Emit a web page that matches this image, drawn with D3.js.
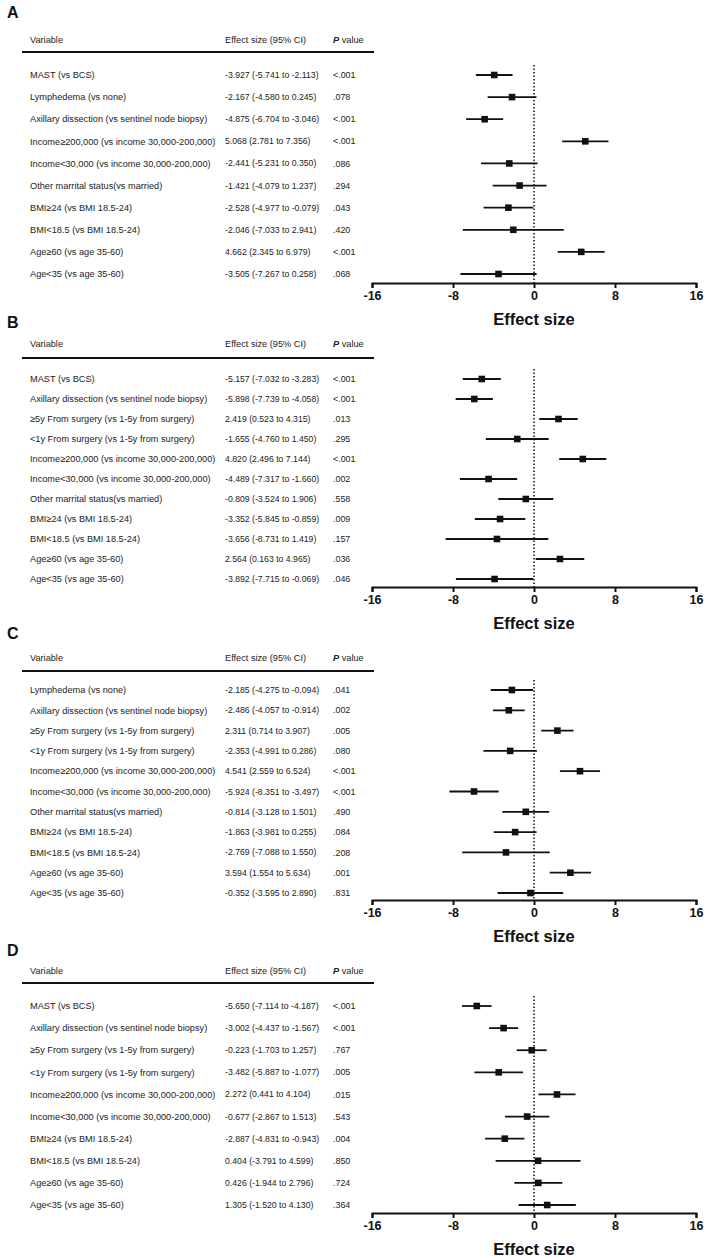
<!DOCTYPE html>
<html>
<head>
<meta charset="utf-8">
<script src="https://cdn.jsdelivr.net/npm/d3@7"></script>
<style>
  html, body { margin: 0; padding: 0; background: #fff; }
  svg { display: block; font-family: "Liberation Sans", Arial, sans-serif; }
  .panel-letter { font-size: 16px; font-weight: bold; fill: #111; }
  .head { font-size: 9.2px; fill: #222; }
  .row-text { font-size: 9.2px; fill: #222; }
  .row-text.eff { font-size: 8.7px; }
  .row-text.pv { font-size: 8.9px; }
  .axis text { font-size: 12.5px; font-weight: bold; fill: #111; font-family: "Liberation Sans", Arial, sans-serif; }
  .axis path, .axis line { stroke: #111; stroke-width: 2; }
  .axis-title { font-size: 16.5px; font-weight: bold; fill: #111; }
</style>
</head>
<body>
<div id="chart"></div>
<script>
// forest plots A-D: effect size (95% CI) by variable

const TICKS = [-16, -8, 0, 8, 16];

// panel A
const A_VARS = [
  "MAST (vs BCS)",
  "Lymphedema (vs none)",
  "Axillary dissection (vs sentinel node biopsy)",
  "Income≥200,000 (vs income 30,000-200,000)",
  "Income<30,000 (vs income 30,000-200,000)",
  "Other marrital status(vs married)",
  "BMI≥24 (vs BMI 18.5-24)",
  "BMI<18.5 (vs BMI 18.5-24)",
  "Age≥60 (vs age 35-60)",
  "Age<35 (vs age 35-60)",
];
const A_EST = [-3.927, -2.167, -4.875, 5.068, -2.441, -1.421, -2.528, -2.046, 4.662, -3.505];
const A_LO = [-5.741, -4.580, -6.704, 2.781, -5.231, -4.079, -4.977, -7.033, 2.345, -7.267];
const A_HI = [-2.113, 0.245, -3.046, 7.356, 0.350, 1.237, -0.079, 2.941, 6.979, 0.258];
const A_P = ["<.001", ".078", "<.001", "<.001", ".086", ".294", ".043", ".420", "<.001", ".068"];

// panel B
const B_VARS = [
  "MAST (vs BCS)",
  "Axillary dissection (vs sentinel node biopsy)",
  "≥5y From surgery (vs 1-5y from surgery)",
  "<1y From surgery (vs 1-5y from surgery)",
  "Income≥200,000 (vs income 30,000-200,000)",
  "Income<30,000 (vs income 30,000-200,000)",
  "Other marrital status(vs married)",
  "BMI≥24 (vs BMI 18.5-24)",
  "BMI<18.5 (vs BMI 18.5-24)",
  "Age≥60 (vs age 35-60)",
  "Age<35 (vs age 35-60)",
];
const B_EST = [-5.157, -5.898, 2.419, -1.655, 4.820, -4.489, -0.809, -3.352, -3.656, 2.564, -3.892];
const B_LO = [-7.032, -7.739, 0.523, -4.760, 2.496, -7.317, -3.524, -5.845, -8.731, 0.163, -7.715];
const B_HI = [-3.283, -4.058, 4.315, 1.450, 7.144, -1.660, 1.906, -0.859, 1.419, 4.965, -0.069];
const B_P = ["<.001", "<.001", ".013", ".295", "<.001", ".002", ".558", ".009", ".157", ".036", ".046"];

// panel C
const C_VARS = [
  "Lymphedema (vs none)",
  "Axillary dissection (vs sentinel node biopsy)",
  "≥5y From surgery (vs 1-5y from surgery)",
  "<1y From surgery (vs 1-5y from surgery)",
  "Income≥200,000 (vs income 30,000-200,000)",
  "Income<30,000 (vs income 30,000-200,000)",
  "Other marrital status(vs married)",
  "BMI≥24 (vs BMI 18.5-24)",
  "BMI<18.5 (vs BMI 18.5-24)",
  "Age≥60 (vs age 35-60)",
  "Age<35 (vs age 35-60)",
];
const C_EST = [-2.185, -2.486, 2.311, -2.353, 4.541, -5.924, -0.814, -1.863, -2.769, 3.594, -0.352];
const C_LO = [-4.275, -4.057, 0.714, -4.991, 2.559, -8.351, -3.128, -3.981, -7.088, 1.554, -3.595];
const C_HI = [-0.094, -0.914, 3.907, 0.286, 6.524, -3.497, 1.501, 0.255, 1.550, 5.634, 2.890];
const C_P = [".041", ".002", ".005", ".080", "<.001", "<.001", ".490", ".084", ".208", ".001", ".831"];

// panel D
const D_VARS = [
  "MAST (vs BCS)",
  "Axillary dissection (vs sentinel node biopsy)",
  "≥5y From surgery (vs 1-5y from surgery)",
  "<1y From surgery (vs 1-5y from surgery)",
  "Income≥200,000 (vs income 30,000-200,000)",
  "Income<30,000 (vs income 30,000-200,000)",
  "BMI≥24 (vs BMI 18.5-24)",
  "BMI<18.5 (vs BMI 18.5-24)",
  "Age≥60 (vs age 35-60)",
  "Age<35 (vs age 35-60)",
];
const D_EST = [-5.650, -3.002, -0.223, -3.482, 2.272, -0.677, -2.887, 0.404, 0.426, 1.305];
const D_LO = [-7.114, -4.437, -1.703, -5.887, 0.441, -2.867, -4.831, -3.791, -1.944, -1.520];
const D_HI = [-4.187, -1.567, 1.257, -1.077, 4.104, 1.513, -0.943, 4.599, 2.796, 4.130];
const D_P = ["<.001", "<.001", ".767", ".005", ".015", ".543", ".004", ".850", ".724", ".364"];

const WIDTH = 708;
const HEIGHT = 1257;

// layout of each panel (vertical positions)
const PANELS = [
  { letter: "A", vars: A_VARS, est: A_EST, lo: A_LO, hi: A_HI, p: A_P,
    letterY: 12, headY: 40, ruleY: 52, rowTop: 75, rowBottom: 274, axisY: 283 },
  { letter: "B", vars: B_VARS, est: B_EST, lo: B_LO, hi: B_HI, p: B_P,
    letterY: 322, headY: 344, ruleY: 358, rowTop: 379, rowBottom: 579, axisY: 587 },
  { letter: "C", vars: C_VARS, est: C_EST, lo: C_LO, hi: C_HI, p: C_P,
    letterY: 633, headY: 658, ruleY: 671, rowTop: 690, rowBottom: 893, axisY: 900 },
  { letter: "D", vars: D_VARS, est: D_EST, lo: D_LO, hi: D_HI, p: D_P,
    letterY: 950, headY: 971, ruleY: 983, rowTop: 1006, rowBottom: 1205, axisY: 1213 },
];

const COL_VAR = 30;
const COL_EFF = 225;
const COL_P = 333;
const RULE_X0 = 22;
const RULE_X1 = 374;

const x = d3.scaleLinear().domain([-16, 16]).range([372, 696]);

const fmt = (v) => d3.format(".3f")(v).replace("−", "-");
const effText = (e, l, h) => `${fmt(e)} (${fmt(l)} to ${fmt(h)})`;

const svg = d3.select("#chart")
  .append("svg")
  .attr("width", WIDTH)
  .attr("height", HEIGHT)
  .attr("viewBox", `0 0 ${WIDTH} ${HEIGHT}`);

function drawPanel(cfg) {
  const g = svg.append("g");

  const rows = cfg.vars.map((v, i) => ({
    label: v,
    est: cfg.est[i],
    lo: cfg.lo[i],
    hi: cfg.hi[i],
    p: cfg.p[i],
  }));

  const y = d3.scalePoint()
    .domain(cfg.vars)
    .range([cfg.rowTop, cfg.rowBottom]);

  g.append("text")
    .attr("class", "panel-letter")
    .attr("x", 7)
    .attr("y", cfg.letterY)
    .attr("dy", "0.36em")
    .text(cfg.letter);

  // table header
  g.append("text").attr("class", "head")
    .attr("x", COL_VAR).attr("y", cfg.headY).attr("dy", "0.35em")
    .text("Variable");
  g.append("text").attr("class", "head")
    .attr("x", COL_EFF).attr("y", cfg.headY).attr("dy", "0.35em")
    .text("Effect size (95% CI)");
  const ph = g.append("text").attr("class", "head")
    .attr("x", COL_P).attr("y", cfg.headY).attr("dy", "0.35em");
  ph.append("tspan").attr("font-weight", "bold").attr("font-style", "italic").text("P");
  ph.append("tspan").text(" value");

  g.append("line")
    .attr("x1", RULE_X0).attr("x2", RULE_X1)
    .attr("y1", cfg.ruleY).attr("y2", cfg.ruleY)
    .attr("stroke", "#111").attr("stroke-width", 2);

  // table rows
  const row = g.selectAll(".row").data(rows).join("g").attr("class", "row");
  row.append("text").attr("class", "row-text")
    .attr("x", COL_VAR).attr("y", (d) => y(d.label)).attr("dy", "0.35em")
    .text((d) => d.label);
  row.append("text").attr("class", "row-text eff")
    .attr("x", COL_EFF).attr("y", (d) => y(d.label)).attr("dy", "0.35em")
    .text((d) => effText(d.est, d.lo, d.hi));
  row.append("text").attr("class", "row-text pv")
    .attr("x", COL_P).attr("y", (d) => y(d.label)).attr("dy", "0.35em")
    .text((d) => d.p);

  // reference line at zero
  g.append("line")
    .attr("x1", x(0)).attr("x2", x(0))
    .attr("y1", cfg.rowTop - 10).attr("y2", cfg.axisY)
    .attr("stroke", "#111")
    .attr("stroke-width", 1.5)
    .attr("stroke-dasharray", "1.5,2");

  // CI whiskers and point estimates
  row.append("line")
    .attr("x1", (d) => x(d.lo)).attr("x2", (d) => x(d.hi))
    .attr("y1", (d) => y(d.label)).attr("y2", (d) => y(d.label))
    .attr("stroke", "#111").attr("stroke-width", 1.8);
  row.append("rect")
    .attr("x", (d) => x(d.est) - 3.3)
    .attr("y", (d) => y(d.label) - 3.3)
    .attr("width", 6.6).attr("height", 6.6)
    .attr("fill", "#111");

  // axis
  const ax = g.append("g")
    .attr("class", "axis")
    .attr("transform", `translate(0,${cfg.axisY})`)
    .call(d3.axisBottom(x).tickValues(TICKS).tickSize(5).tickSizeOuter(5).tickPadding(3));
  ax.selectAll(".tick text").text((d) => String(d));

  g.append("text")
    .attr("class", "axis-title")
    .attr("x", x(0))
    .attr("y", cfg.axisY + 36)
    .attr("dy", "0.35em")
    .attr("text-anchor", "middle")
    .text("Effect size");
}

PANELS.forEach(drawPanel);
</script>
</body>
</html>
